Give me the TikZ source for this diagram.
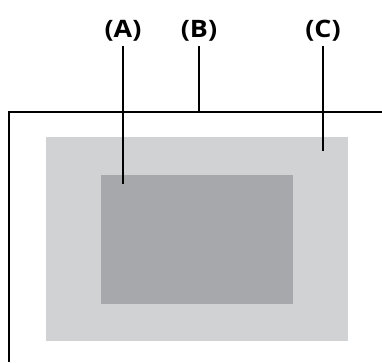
\documentclass[tikz,border=0pt]{standalone}
\usepackage{fontspec}
\setmainfont{Open Sans}
\begin{document}
\begin{tikzpicture}[x=1pt,y=-1pt,
  lbl/.style={font=\fontsize{24}{26}\selectfont\bfseries, inner sep=0pt, anchor=base, xscale=1.12, transform shape},
  leader/.style={line width=2pt, black},
  frame/.style={line width=2.5pt, black}]
\definecolor{lightg}{HTML}{D1D2D4}
\definecolor{darkg}{HTML}{A7A8AB}
\useasboundingbox (0,0) rectangle (382,362);
\fill[lightg] (46,137) rectangle (348,341);
\fill[darkg] (101,175) rectangle (293,304);
\draw[frame] (382,112) -- (9,112) -- (9,362);
\node[lbl] (lA) at (123,37) {(A)};
\node[lbl] (lB) at (199,37) {(B)};
\node[lbl] (lC) at (323,37) {(C)};
\coordinate (aTop) at (123,46); \coordinate (aEnd) at (123,184);
\coordinate (bTop) at (199,46); \coordinate (bEnd) at (199,112);
\coordinate (cTop) at (323,46); \coordinate (cEnd) at (323,151);
\draw[leader] (aTop) -- (aEnd);
\draw[leader] (bTop) -- (bEnd);
\draw[leader] (cTop) -- (cEnd);
\end{tikzpicture}
\end{document}
